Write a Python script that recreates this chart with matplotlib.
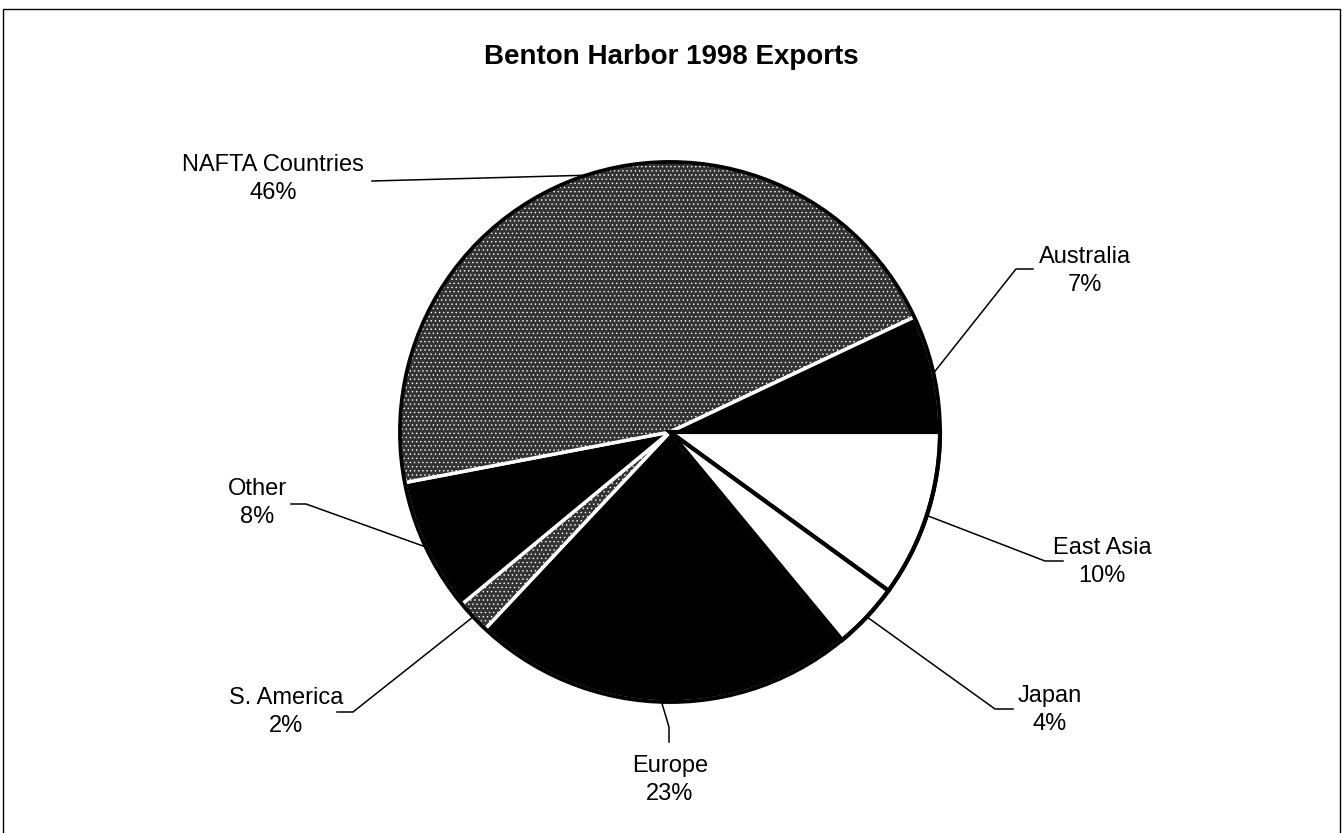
import matplotlib.pyplot as plt
from matplotlib.patches import Circle, Rectangle
import numpy as np

plt.rcParams['font.family'] = ['Liberation Sans', 'DejaVu Sans']
plt.rcParams['hatch.linewidth'] = 0.5

# dados (fatias no sentido horário a partir das 3 horas)
regioes = ['East Asia', 'Japan', 'Europe', 'S. America', 'Other', 'NAFTA Countries', 'Australia']
percentuais = [10, 4, 23, 2, 8, 46, 7]
cores = ['white', 'white', 'black', '#333333', 'black', '#333333', 'black']
hachuras = [None, None, None, '....', None, '....', None]

# layout em pixels (x, y da imagem)
centro = (670, 432)
raio = 270
pos_rotulo = [(1102, 562), (1050, 710), (670, 780), (286, 712), (257, 503), (273, 179), (1085, 271)]
cotovelo = [[(1045, 561), (1063, 561)],
            [(995, 709), (1013, 709)],
            [(669, 727), (669, 742)],
            [(353, 712), (337, 712)],
            [(306, 504), (291, 504)],
            [(372, 181)],
            [(1016, 269), (1033, 269)]]

fig = plt.figure(figsize=(13.42, 8.33), dpi=100)
ax = fig.add_axes([0, 0, 1, 1])

wedges, _ = ax.pie(percentuais, colors=cores, startangle=0, counterclock=True,
                   center=centro, radius=raio,
                   wedgeprops=dict(linewidth=2.5, edgecolor='white'))
for w, h, c in zip(wedges, hachuras, cores):
    if h:
        w.set_hatch(h)
    if c == 'white':
        w.set_edgecolor('black')
        w.set_linewidth(3)
        w.set_zorder(3)

ax.add_patch(Circle(centro, raio, fill=False, edgecolor='black', linewidth=2.8, zorder=4))

ax.set_xlim(0, 1342)
ax.set_ylim(833, 0)
ax.set_aspect('equal')
ax.axis('off')

# linhas de chamada e rótulos
angulos = np.cumsum(percentuais) - np.array(percentuais) / 2
for nome, p, ang, (tx, ty), pts in zip(regioes, percentuais, angulos, pos_rotulo, cotovelo):
    a = np.deg2rad(ang * 3.6)
    x0 = centro[0] + raio * np.cos(a)
    y0 = centro[1] + raio * np.sin(a)
    xs = [x0] + [q[0] for q in pts]
    ys = [y0] + [q[1] for q in pts]
    ax.plot(xs, ys, color='black', linewidth=1.1, zorder=5)
    ax.text(tx, ty, f'{nome}\n{p}%', ha='center', va='center', fontsize=17,
            linespacing=1.3)

ax.text(671, 57, 'Benton Harbor 1998 Exports', ha='center', va='center',
        fontsize=20, fontweight='bold')

# moldura
ax.add_patch(Rectangle((3, 9), 1337, 830, fill=False, edgecolor='black', linewidth=1))

fig.savefig('out.png', dpi=100)
